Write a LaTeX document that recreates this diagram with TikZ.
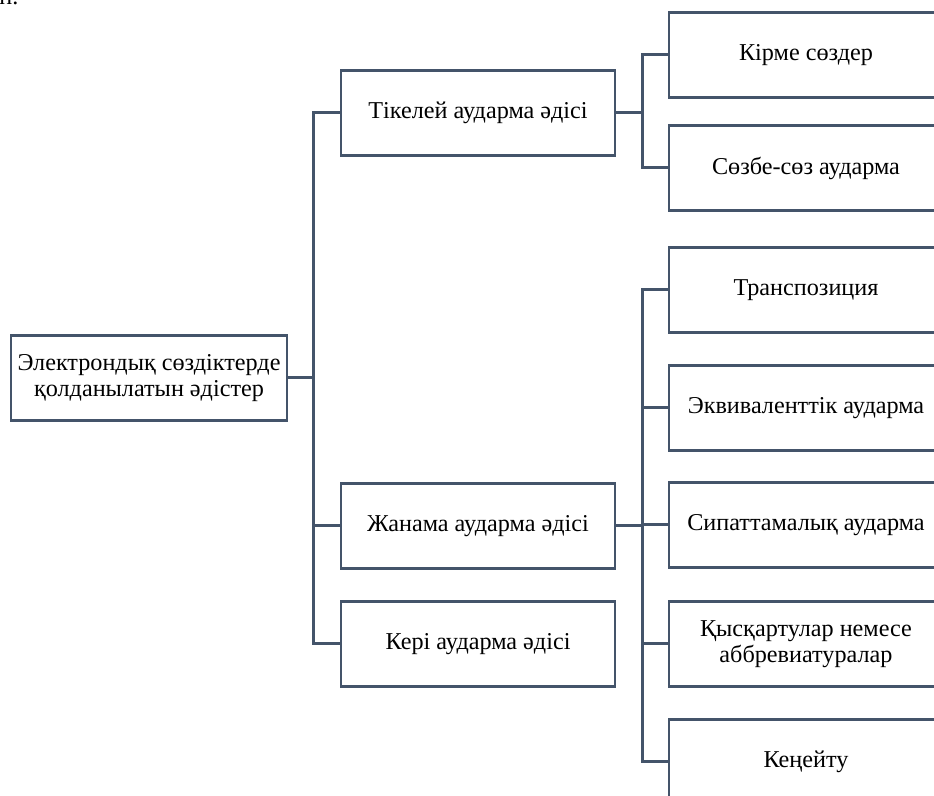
\documentclass[tikz,border=0pt]{standalone}
\usepackage{fontspec}
\setmainfont{Liberation Serif}
\usetikzlibrary{positioning}

\definecolor{slate}{HTML}{44546A}
\tikzset{
  box/.style={draw=slate, line width=1.2pt, fill=white, minimum width=137pt,
    minimum height=42.5pt, inner xsep=1pt, align=center,
    font=\fontsize{12.1}{12.8}\selectfont},
  conn/.style={draw=slate, line width=1.5pt},
}

\begin{document}
\begin{tikzpicture}[x=0.5pt, y=-0.5pt]
  \useasboundingbox (0,0) rectangle (934,796);

  \node[anchor=base west, inner sep=0pt, font=\fontsize{12.1}{12.8}\selectfont] (cap) at (-1,5) {н.};

  \coordinate (trunkL) at (313,0);
  \coordinate (trunkR) at (642,0);

  \node[box, minimum width=138pt] (root) at (149,378)
    {Электрондық сөздіктерде\\қолданылатын әдістер};

  \node[box] (tik)  at (478,113) {Тікелей аударма әдісі};
  \node[box] (jan)  at (478,526) {Жанама аударма әдісі};
  \node[box] (keri) at (478,644) {Кері аударма әдісі};

  \node[box] (kirme) at (806,55)  {Кірме сөздер};
  \node[box] (sozbe) at (806,168) {Сөзбе-сөз аударма};

  \node[box] (trans) at (806,290) {Транспозиция};
  \node[box] (ekv)   at (806,408) {Эквиваленттік аударма};
  \node[box] (sip)   at (806,525) {Сипаттамалық аударма};
  \node[box] (qys)   at (806,644) {Қысқартулар немесе\\аббревиатуралар};
  \node[box] (ken)   at (806,762) {Кеңейту};

  % root to the three methods
  \draw[conn] (root.east) -| (trunkL |- tik.west) -- (tik.west);
  \draw[conn] (root.east) -| (trunkL |- keri.west) -- (keri.west);
  \draw[conn] (trunkL |- jan.west) -- (jan.west);

  % direct translation
  \draw[conn] (tik.east) -| (trunkR |- kirme.west) -- (kirme.west);
  \draw[conn] (tik.east) -| (trunkR |- sozbe.west) -- (sozbe.west);

  % indirect translation
  \draw[conn] (jan.east) -| (trunkR |- trans.west) -- (trans.west);
  \draw[conn] (jan.east) -| (trunkR |- ken.west) -- (ken.west);
  \draw[conn] (trunkR |- ekv.west) -- (ekv.west);
  \draw[conn] (trunkR |- sip.west) -- (sip.west);
  \draw[conn] (trunkR |- qys.west) -- (qys.west);
\end{tikzpicture}
\end{document}
